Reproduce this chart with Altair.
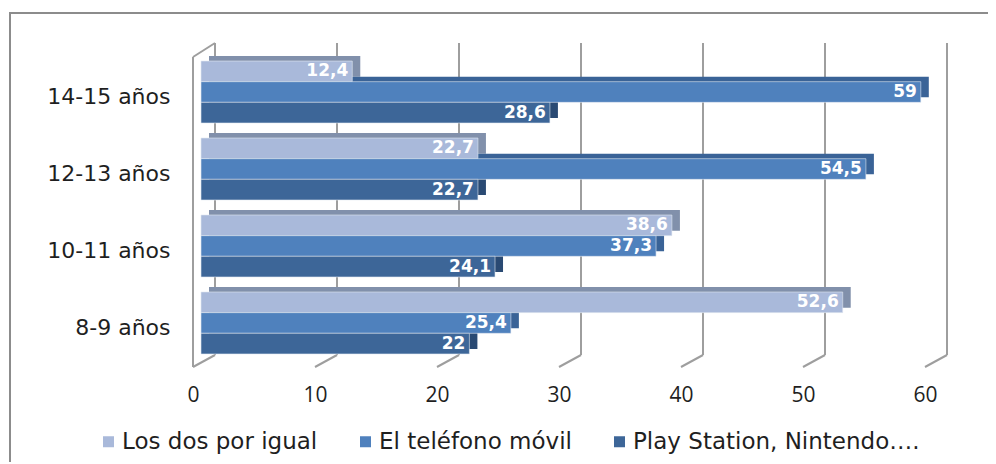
import altair as alt
import pandas as pd

categories = ["14-15 años", "12-13 años", "10-11 años", "8-9 años"]
series = ["Los dos por igual", "El teléfono móvil", "Play Station, Nintendo…."]
los_dos = [12.4, 22.7, 38.6, 52.6]
telefono = [59, 54.5, 37.3, 25.4]
play = [28.6, 22.7, 24.1, 22]
ticks = [0, 10, 20, 30, 40, 50, 60]

front_colors = ["#A9B9DA", "#4F81BD", "#3D6698"]
shadow_colors = ["#8190AB", "#3A6397", "#2A4A73"]

rows = []
for i, c in enumerate(categories):
    for s, vals in zip(series, [los_dos, telefono, play]):
        rows.append({"cat": c, "series": s, "v": vals[i]})
df = pd.DataFrame(rows)
grid_df = pd.DataFrame({"t": ticks})

W, H = 732, 329
LBL = "DejaVu Sans"

x_scale = alt.Scale(domain=[0, 60], nice=False, zero=True)
x_axis = alt.Axis(values=ticks, domain=False, ticks=False, grid=False,
                  labelFlush=False, labelOverlap=False,
                  labelBaseline="middle", labelPadding=23, labelOffset=-8)

y_enc = alt.Y("cat:N", sort=categories,
              scale=alt.Scale(paddingInner=0.1948, paddingOuter=0.234),
              title=None,
              axis=alt.Axis(domain=False, ticks=False, tickSize=0, grid=False,
                            labelPadding=31, labelOffset=5))

grid_col = "#9E9E9E"
grid = alt.Chart(grid_df).mark_rule(color=grid_col, strokeWidth=2, xOffset=14).encode(
    x=alt.X("t:Q", scale=x_scale, axis=x_axis, title=None),
    y=alt.value(0), y2=alt.value(312))
floor = alt.Chart(grid_df).mark_rule(color=grid_col, strokeWidth=2, xOffset=14, x2Offset=-8).encode(
    x=alt.X("t:Q", scale=x_scale, axis=x_axis, title=None),
    x2="t:Q", y=alt.value(312), y2=alt.value(324))
wall_front = alt.Chart(grid_df).transform_filter("datum.t == 0").mark_rule(
    color=grid_col, strokeWidth=2, xOffset=-8).encode(
    x=alt.X("t:Q", scale=x_scale, axis=x_axis, title=None),
    y=alt.value(14), y2=alt.value(324))
wall_top = alt.Chart(grid_df).transform_filter("datum.t == 0").mark_rule(
    color=grid_col, strokeWidth=2, xOffset=-8, x2Offset=14).encode(
    x=alt.X("t:Q", scale=x_scale, axis=x_axis, title=None),
    x2="t:Q", y=alt.value(14), y2=alt.value(0))

shadow = alt.Chart(df).mark_bar(xOffset=8, x2Offset=8).encode(
    y=y_enc,
    x=alt.X("v:Q", scale=x_scale, axis=x_axis, title=None),
    yOffset=alt.YOffset("series:N", sort=series,
                        scale=alt.Scale(domain=series, range=[-5, 57])),
    color=alt.Color("series:N", scale=alt.Scale(domain=series, range=shadow_colors),
                    legend=None))

front = alt.Chart(df).mark_bar(stroke="#E3E9F2", strokeWidth=0.6).encode(
    y=y_enc,
    x=alt.X("v:Q", scale=x_scale, axis=x_axis, title=None),
    yOffset=alt.YOffset("series:N", sort=series, scale=alt.Scale(domain=series)),
    color=alt.Color("series:N", sort=series,
                    scale=alt.Scale(domain=series, range=front_colors),
                    legend=alt.Legend(title=None, orient="none", direction="horizontal",
                                      legendX=-104, legendY=387,
                                      symbolType="square", symbolSize=121,
                                      symbolStrokeWidth=0,
                                      labelLimit=500, columnPadding=36,
                                      labelOffset=2)))

labels = alt.Chart(df).transform_calculate(
    lab="replace(toString(datum.v), '.', ',')").mark_text(
    align="right", baseline="middle", dx=-4, color="white",
    font=LBL, fontWeight="bold", fontSize=17).encode(
    y=y_enc,
    x=alt.X("v:Q", scale=x_scale, axis=x_axis, title=None),
    yOffset=alt.YOffset("series:N", sort=series, scale=alt.Scale(domain=series)),
    text="lab:N")

border_left = alt.Chart(grid_df).transform_filter("datum.t == 0").mark_rule(
    color="#8C8C8C", strokeWidth=2).encode(
    x=alt.value(-191), y=alt.value(-30), y2=alt.value(460))
border_top = alt.Chart(grid_df).transform_filter("datum.t == 0").mark_rule(
    color="#8C8C8C", strokeWidth=2).encode(
    x=alt.value(-192), x2=alt.value(900), y=alt.value(-30))

chart = alt.layer(grid, floor, wall_front, wall_top, shadow, front, labels,
                  border_left, border_top).resolve_scale(
    yOffset="independent", color="independent").properties(
    width=W, height=H,
    autosize=alt.AutoSizeParams(type="none"),
    padding={"left": 193, "top": 35, "right": 55, "bottom": 90},
    background="white").configure_view(stroke=None).configure_axisX(
    labelFont="Open Sans", labelFontSize=21, labelColor="#1F1F1F").configure_axisY(
    labelFont=LBL, labelFontSize=22, labelColor="#1F1F1F").configure_legend(
    labelFont=LBL, labelFontSize=23, labelColor="#1F1F1F")

chart.save("out.html", embed_options={"renderer": "svg", "actions": False})
